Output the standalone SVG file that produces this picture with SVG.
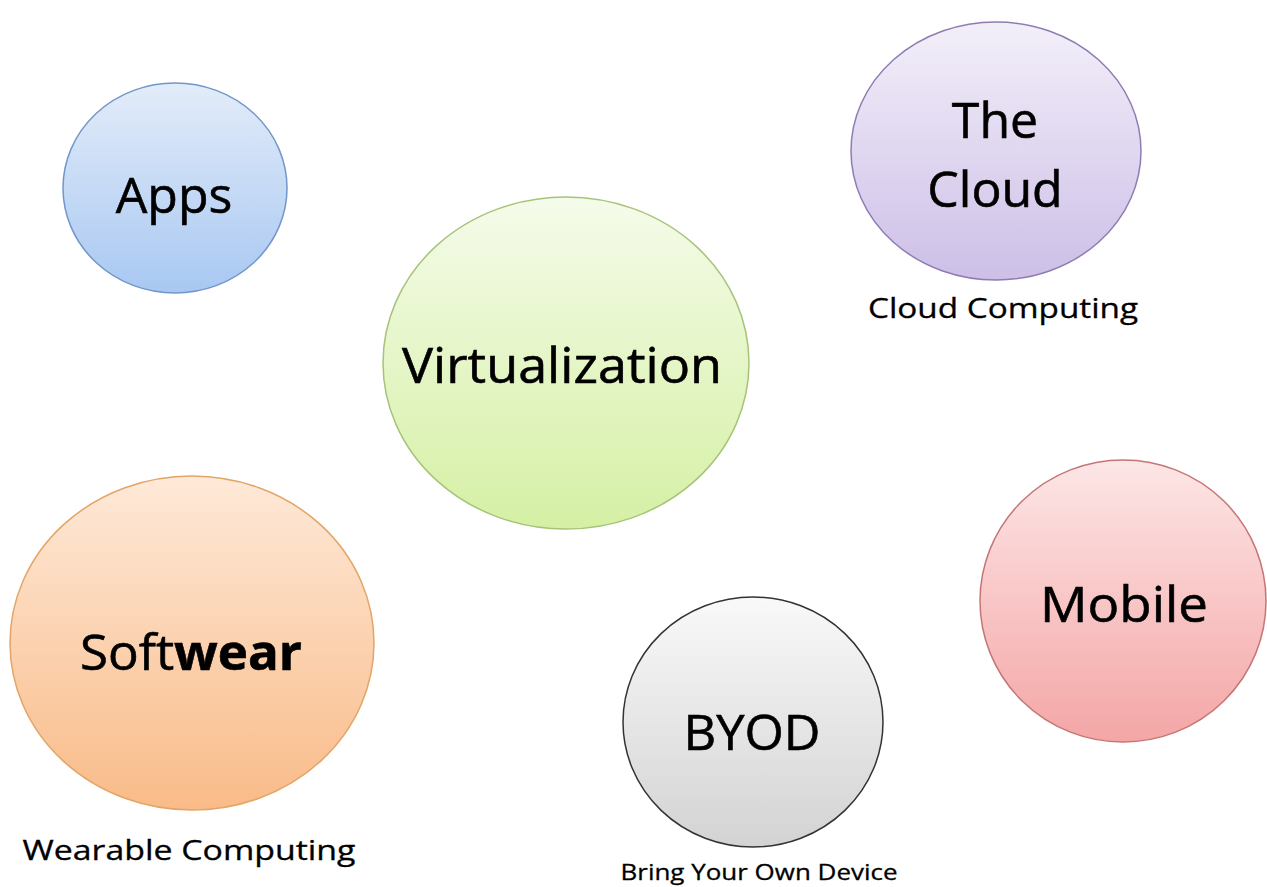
<svg xmlns="http://www.w3.org/2000/svg" width="1267" height="887" viewBox="0 0 1267 887">
<defs>
<linearGradient id="gBlue" x1="0" y1="0" x2="0" y2="1"><stop offset="0" stop-color="#e3ecf9"/><stop offset="1" stop-color="#a8c8f2"/></linearGradient>
<linearGradient id="gGreen" x1="0" y1="0" x2="0" y2="1"><stop offset="0" stop-color="#f5fbea"/><stop offset="1" stop-color="#d5f0a4"/></linearGradient>
<linearGradient id="gPurple" x1="0" y1="0" x2="0" y2="1"><stop offset="0" stop-color="#f3eff9"/><stop offset="1" stop-color="#cdbfe7"/></linearGradient>
<linearGradient id="gOrange" x1="0" y1="0" x2="0" y2="1"><stop offset="0" stop-color="#fee9d8"/><stop offset="1" stop-color="#f9bb88"/></linearGradient>
<linearGradient id="gGray" x1="0" y1="0" x2="0" y2="1"><stop offset="0" stop-color="#f9f9f9"/><stop offset="1" stop-color="#d3d3d3"/></linearGradient>
<linearGradient id="gRed" x1="0" y1="0" x2="0" y2="1"><stop offset="0" stop-color="#fde6e6"/><stop offset="1" stop-color="#f4a6a6"/></linearGradient>
</defs>
<style>
text{font-family:"Open Sans","Liberation Sans",sans-serif;fill:#000;text-anchor:middle}
.big{font-size:50px;stroke:#000;stroke-width:0.6}
.sub{font-size:27px;font-weight:500;stroke:#000;stroke-width:0.3}
.small{font-size:22px;font-weight:500;stroke:#000;stroke-width:0.3}
ellipse{stroke-width:1.5}
</style>
<rect width="1267" height="887" fill="#fff"/>
<g id="connectors"/>
<g id="apps">
<ellipse cx="175" cy="188" rx="112" ry="105" fill="url(#gBlue)" stroke="#7396c8"/>
<text class="big" x="174" y="213">Apps</text>
</g>
<g id="virtualization">
<ellipse cx="566" cy="363" rx="183" ry="166" fill="url(#gGreen)" stroke="#a7c37a"/>
<text class="big" x="562" y="383" textLength="320" lengthAdjust="spacingAndGlyphs">Virtualization</text>
</g>
<g id="cloud">
<ellipse cx="996" cy="151" rx="145" ry="129" fill="url(#gPurple)" stroke="#8e7cb2"/>
<text class="big" x="995" y="138">The</text>
<text class="big" x="995" y="207">Cloud</text>
<text class="sub" x="1003" y="318" textLength="270" lengthAdjust="spacingAndGlyphs">Cloud Computing</text>
</g>
<g id="softwear">
<ellipse cx="192" cy="643" rx="182" ry="167" fill="url(#gOrange)" stroke="#e3a468"/>
<text class="big" x="191" y="670" textLength="222" lengthAdjust="spacingAndGlyphs">Soft<tspan font-weight="bold">wear</tspan></text>
<text class="sub" x="189" y="860" textLength="333" lengthAdjust="spacingAndGlyphs">Wearable Computing</text>
</g>
<g id="byod">
<ellipse cx="753" cy="722" rx="130" ry="125" fill="url(#gGray)" stroke="#333"/>
<text class="big" x="752" y="750" textLength="137" lengthAdjust="spacingAndGlyphs">BYOD</text>
<text class="small" x="759" y="880" textLength="277" lengthAdjust="spacingAndGlyphs">Bring Your Own Device</text>
</g>
<g id="mobile">
<ellipse cx="1123" cy="601" rx="143" ry="141" fill="url(#gRed)" stroke="#c47676"/>
<text class="big" x="1124" y="622" textLength="168" lengthAdjust="spacingAndGlyphs">Mobile</text>
</g>
</svg>
